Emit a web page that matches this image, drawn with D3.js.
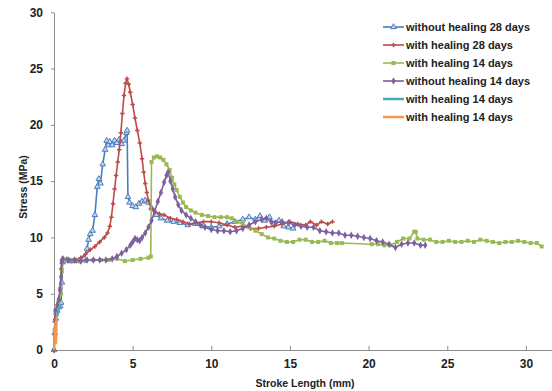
<!DOCTYPE html>
<html><head><meta charset="utf-8">
<script src="https://cdn.jsdelivr.net/npm/d3@7"></script>
<style>body{margin:0;background:#fff}svg{display:block}</style>
</head><body><svg id="c" width="552" height="391"></svg>
<script>
const seriesNames = ["without healing 28 days","with healing 28 days","with healing 14 days","without healing 14 days","with healing 14 days","with healing 14 days"];
const seriesColors = ["#4a7ebb","#be4b48","#98b954","#7d60a0","#46aac5","#f79646"];
const seriesMarkers = ["triangle","plus","square","diamond","none","none"];
const xTicks = [0,5,10,15,20,25,30];
const yTicks = [0,5,10,15,20,25,30];

const blue = [[0,0],[0.05,1.5],[0.12,2.8],[0.2,3.5],[0.3,3.8],[0.4,3.9],[0.45,4.2],[0.5,6],[0.55,7.8],[0.6,8.0],[0.8,8.0],[1.0,7.9],[1.3,7.9],[1.6,7.9],[1.9,8.1],[2.1,9.0],[2.2,9.8],[2.3,10.3],[2.45,10.6],[2.6,12.0],[2.75,14.5],[2.85,15.2],[2.95,14.8],[3.1,16.5],[3.25,17.8],[3.35,18.6],[3.45,18.2],[3.55,18.5],[3.7,18.2],[3.85,18.6],[4.0,18.4],[4.15,18.7],[4.3,18.3],[4.45,18.6],[4.6,19.3],[4.65,19.5],[4.7,13.6],[4.8,13.1],[5.0,12.8],[5.2,12.7],[5.4,13.0],[5.6,13.2],[5.8,13.3],[6.0,13.1],[6.2,12.6],[6.5,12.0],[6.8,11.7],[7.2,11.5],[7.6,11.4],[8.0,11.3],[8.5,11.1],[9.0,11.2],[9.5,11.0],[10.0,10.9],[10.5,11.0],[11.0,11.2],[11.5,11.4],[12.0,11.6],[12.4,11.8],[12.8,11.6],[13.1,11.9],[13.4,11.5],[13.7,11.8],[14.0,11.2],[14.3,11.5],[14.6,11.0],[14.9,10.9],[15.2,10.8]];
const red = [[0,0],[0.05,2.5],[0.1,3.2],[0.2,3.6],[0.3,4.3],[0.4,5.5],[0.45,7.2],[0.5,8.0],[0.8,8.0],[1.1,7.9],[1.4,8.0],[1.7,8.2],[2.0,8.5],[2.3,8.9],[2.6,9.2],[2.9,9.6],[3.2,10.0],[3.4,10.4],[3.55,11.0],[3.65,11.8],[3.75,13.0],[3.85,14.3],[3.95,15.5],[4.05,16.7],[4.15,17.8],[4.25,19.3],[4.35,21.0],[4.45,22.6],[4.55,23.7],[4.64,24.1],[4.75,23.6],[4.85,22.9],[5.0,21.8],[5.15,20.6],[5.3,19.5],[5.45,18.4],[5.6,17.0],[5.7,15.8],[5.8,14.8],[5.9,14.0],[6.0,13.3],[6.2,12.6],[6.4,12.3],[6.7,12.1],[7.0,12.0],[7.4,11.7],[7.8,11.6],[8.2,11.4],[8.6,11.2],[9.0,11.3],[9.5,11.4],[10.0,11.4],[10.5,11.3],[11.0,11.1],[11.5,10.9],[12.0,11.0],[12.5,10.8],[13.0,10.8],[13.5,10.9],[14.0,11.0],[14.5,11.2],[15.0,11.4],[15.5,11.2],[16.0,11.1],[16.3,11.4],[16.7,11.1],[17.0,11.4],[17.4,11.2],[17.7,11.4]];
const green = [[0,0],[0.05,1.8],[0.15,3.3],[0.3,4.2],[0.45,5.0],[0.5,7.0],[0.55,8.0],[0.8,8.0],[1.2,8.0],[1.6,7.9],[2.0,7.9],[2.5,8.0],[3.0,8.0],[3.5,8.0],[4.0,8.1],[4.5,7.9],[5.0,8.0],[5.5,8.1],[6.0,8.2],[6.15,8.3],[6.2,16.7],[6.35,17.1],[6.55,17.2],[6.75,17.1],[6.95,16.9],[7.15,16.5],[7.35,16.0],[7.5,15.3],[7.65,14.7],[7.8,14.2],[8.0,13.6],[8.2,13.1],[8.4,12.7],[8.7,12.4],[9.0,12.2],[9.4,12.0],[9.8,11.9],[10.2,11.8],[10.6,11.8],[11.0,11.8],[11.3,11.7],[11.6,11.4],[12.0,11.2],[12.4,10.9],[12.8,10.6],[13.2,10.3],[13.6,10.0],[14.0,9.9],[14.4,9.7],[14.8,9.6],[15.2,9.6],[15.6,9.8],[16.0,9.8],[16.4,9.6],[16.8,9.6],[17.2,9.7],[17.6,9.5],[18.0,9.5],[18.3,9.5],[20.2,9.4],[20.6,9.4],[21.0,9.3],[21.4,9.3],[21.8,9.6],[22.2,9.9],[22.6,9.9],[22.9,10.5],[23.0,10.5],[23.1,9.9],[23.5,9.8],[23.9,9.8],[24.3,9.6],[24.7,9.6],[25.1,9.7],[25.5,9.6],[25.9,9.6],[26.3,9.7],[26.7,9.6],[27.1,9.8],[27.5,9.7],[27.9,9.6],[28.3,9.5],[28.7,9.6],[29.1,9.6],[29.5,9.7],[29.9,9.6],[30.3,9.5],[30.7,9.5],[31.0,9.2]];
const purple = [[0,0],[0.08,3.5],[0.2,4.0],[0.3,4.5],[0.38,5.3],[0.45,6.5],[0.5,7.8],[0.55,8.1],[0.9,8.0],[1.3,8.0],[1.7,7.9],[2.1,8.0],[2.5,8.0],[2.9,8.0],[3.3,8.0],[3.7,8.1],[4.0,8.3],[4.3,8.6],[4.6,8.9],[4.85,9.3],[5.0,9.6],[5.15,9.9],[5.3,9.8],[5.45,9.7],[5.6,10.0],[5.8,10.4],[6.0,10.9],[6.2,11.5],[6.4,12.3],[6.6,13.2],[6.8,14.0],[7.0,14.9],[7.15,15.5],[7.25,15.8],[7.4,15.0],[7.55,14.3],[7.7,13.6],[7.9,12.9],[8.1,12.4],[8.4,12.0],[8.7,11.7],[9.0,11.4],[9.3,11.1],[9.6,10.9],[10.0,10.7],[10.4,10.6],[10.8,10.6],[11.2,10.5],[11.6,10.6],[12.0,10.8],[12.4,11.1],[12.8,11.4],[13.2,11.6],[13.5,11.7],[13.8,11.4],[14.1,11.3],[14.5,11.4],[14.9,11.3],[15.3,11.1],[15.7,11.0],[16.1,10.9],[16.5,10.9],[16.9,10.6],[17.3,10.5],[17.7,10.4],[18.1,10.4],[18.5,10.2],[18.9,10.2],[19.3,10.1],[19.7,10.0],[20.1,9.9],[20.5,9.7],[20.9,9.6],[21.3,9.4],[21.7,9.1],[22.1,9.4],[22.5,9.5],[22.9,9.5],[23.3,9.3],[23.6,9.3]];
const cyan = [[0,0],[0.05,1.5],[0.1,2.2],[0.2,3.0],[0.3,3.5],[0.4,4.0]];
const orange = [[0,0],[0.05,1.2],[0.1,2.5],[0.13,0.6],[0.18,3.0]];
const allSeries = [blue, red, green, purple, cyan, orange];

const svg = d3.select("#c");
const x = d3.scaleLinear().domain([0, 32]).range([54, 54 + 32 * 15.73]);
const y = d3.scaleLinear().domain([0, 30]).range([350, 12.3]);
const font = "'Liberation Sans', Arial, sans-serif";

const xAxis = svg.append("g").attr("transform", "translate(0,350)")
  .call(d3.axisBottom(x).tickValues(xTicks).tickSize(-4).tickPadding(9).tickSizeOuter(0));
const yAxis = svg.append("g").attr("transform", "translate(54,0)")
  .call(d3.axisLeft(y).tickValues(yTicks).tickSize(3).tickPadding(8).tickSizeOuter(0));
[xAxis, yAxis].forEach(g => {
  g.select(".domain").attr("stroke", "#8c8c8c").attr("stroke-width", 1);
  g.selectAll(".tick line").attr("stroke", "#8c8c8c");
  g.selectAll("text").attr("fill", "#222").style("font-family", font).style("font-size", "12px").style("font-weight", "bold");
});
xAxis.select(".domain").attr("d", "M54,0.5H552");

svg.append("text").attr("x", 305).attr("y", 387).attr("text-anchor", "middle")
  .style("font-family", font).style("font-size", "10.5px").style("font-weight", "bold").attr("fill", "#222")
  .text("Stroke Length (mm)");
svg.append("text").attr("transform", "translate(27,187) rotate(-90)").attr("text-anchor", "middle")
  .style("font-family", font).style("font-size", "10.5px").style("font-weight", "bold").attr("fill", "#222")
  .text("Stress (MPa)");

const line = d3.line().x(d => x(d[0])).y(d => y(d[1]));

function marker(g, type, color, cx, cy) {
  if (type === "triangle") {
    g.append("path").attr("d", d3.symbol(d3.symbolTriangle, 14)()).attr("transform", `translate(${cx},${cy})`)
      .attr("fill", "#c5d6ee").attr("stroke", color).attr("stroke-width", 1);
  } else if (type === "plus") {
    g.append("path").attr("d", `M${cx-2.2},${cy}H${cx+2.2}M${cx},${cy-2.2}V${cy+2.2}`).attr("stroke", color).attr("stroke-width", 1.5);
  } else if (type === "square") {
    g.append("rect").attr("x", cx-2).attr("y", cy-2).attr("width", 4).attr("height", 4).attr("fill", color);
  } else if (type === "diamond") {
    g.append("path").attr("d", d3.symbol(d3.symbolDiamond, 16)()).attr("transform", `translate(${cx},${cy})`).attr("fill", color);
  }
}

const plot = svg.append("g");
allSeries.forEach((data, i) => {
  const g = plot.append("g");
  g.append("path").datum(data).attr("d", line).attr("fill", "none")
    .attr("stroke", seriesColors[i]).attr("stroke-width", i >= 4 ? 2.2 : 1.6).attr("stroke-linejoin", "round");
  data.forEach(d => marker(g, seriesMarkers[i], seriesColors[i], x(d[0]), y(d[1])));
});

const leg = svg.append("g");
seriesNames.forEach((name, i) => {
  const ly = 27 + i * 18;
  leg.append("line").attr("x1", 383).attr("x2", 404).attr("y1", ly).attr("y2", ly)
    .attr("stroke", seriesColors[i]).attr("stroke-width", i >= 4 ? 2.5 : 1.6);
  marker(leg, seriesMarkers[i], seriesColors[i], 393.5, ly);
  leg.append("text").attr("x", 406).attr("y", ly + 4)
    .style("font-family", font).style("font-size", "11px").style("font-weight", "bold").attr("fill", "#222")
    .text(name);
});
</script></body></html>
